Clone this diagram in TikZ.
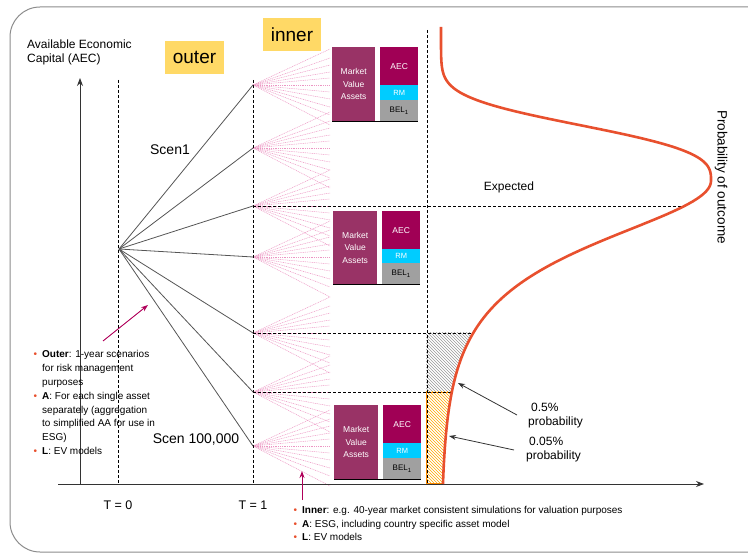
\documentclass[tikz,border=0pt]{standalone}
\usepackage{fontspec}
\setmainfont{Liberation Sans}
\usetikzlibrary{patterns,arrows.meta}
\definecolor{mvac}{RGB}{153,51,102}
\definecolor{aecc}{RGB}{160,0,85}
\definecolor{rmc}{RGB}{0,204,255}
\definecolor{belc}{RGB}{160,160,160}
\definecolor{curvec}{RGB}{232,80,46}
\definecolor{labely}{RGB}{255,217,102}
\definecolor{pinkc}{RGB}{236,150,195}
\definecolor{magc}{RGB}{176,0,90}
\definecolor{linec}{RGB}{85,85,85}
\definecolor{framec}{RGB}{140,140,140}
\definecolor{bulc}{RGB}{232,80,46}
\newcommand{\fs}[2]{\fontsize{#1}{#2}\selectfont}
\newcommand{\bul}{\makebox[0pt][r]{\textcolor{bulc}{\fs{10}{10}\textbullet}\hspace{5pt}}}
\begin{document}
\begin{tikzpicture}[x=1pt,y=-1pt,
  outerline/.style={draw=linec,line width=0.8pt},
  pinkfan/.style={draw=pinkc,line width=0.5pt,dash pattern=on 1pt off 0.8pt},
  dashv/.style={draw=black,line width=0.6pt,dash pattern=on 3pt off 2pt},
  boxmva/.style={fill=mvac,text=white,anchor=north west,inner sep=0pt,align=center,font=\fs{8.5}{12.5}},
  boxaec/.style={fill=aecc,text=white,anchor=north west,inner sep=0pt,align=center,font=\fs{8.5}{10}},
  boxrm/.style={fill=rmc,text=white,anchor=north west,inner sep=0pt,align=center,font=\fs{7.5}{9}},
  boxbel/.style={fill=belc,text=black,anchor=north west,inner sep=0pt,align=center,font=\fs{8}{9}},
  ylabel/.style={fill=labely,inner sep=0pt,font=\fs{19}{20}},
  txt/.style={inner sep=0pt,font=\fs{12}{14}},
  blackarrow/.style={draw=black!80,line width=0.8pt,-{Stealth[length=7pt,width=5pt]}},
  magarrow/.style={draw=magc,line width=0.9pt,-{Stealth[length=7pt,width=5pt]}},
  axisline/.style={draw=black!80,line width=1pt,-{Stealth[length=8pt,width=6pt]}},
  upperplot/.style={domain=27:181,samples=90,variable=\t},
  lowerplot/.style={domain=181:484,samples=120,variable=\t}
]
\useasboundingbox (0,0) rectangle (748,556);
% frame
\draw[framec,line width=1pt,rounded corners=30pt] (10,7) rectangle (790,552);

% hatched regions clipped by curve
\begin{scope}
\clip (300,181) -- plot[lowerplot] ({441+270/cosh((\t-181)/54)},\t) -- (300,484) -- cycle;
\fill[pattern=north west lines,pattern color=gray!80] (426,333) rectangle (490,392);
\fill[pattern=north west lines,pattern color=orange!70!yellow] (426,392) rectangle (470,484);
\draw[orange!90!yellow,line width=0.8pt] (426.4,392.4) rectangle (470,483.6);
\end{scope}

% coordinates
\coordinate (O) at (119,249);
\coordinate (n1) at (253,85);
\coordinate (n2) at (253,148);
\coordinate (n3) at (253,206);
\coordinate (n4) at (253,257);
\coordinate (n5) at (253,333);
\coordinate (n6) at (253,392);
\coordinate (n7) at (253,446);
\coordinate (ax0) at (58,484);
\coordinate (ax1) at (704,484);
\coordinate (ay0) at (80,484);
\coordinate (ay1) at (80,78);
\coordinate (d0a) at (118,80);
\coordinate (d0b) at (118,484);
\coordinate (d1a) at (253,80);
\coordinate (d1b) at (253,484);
\coordinate (d2a) at (427,30);
\coordinate (d2b) at (427,484);
\coordinate (e3) at (685,206);
\coordinate (e5) at (473,333);
\coordinate (e6) at (452,392);

% pink fans
\foreach \i in {1,...,7}{
  \foreach \o [count=\j] in {-36,-27,-20,-13,-7,0,7,14,22,30,40}{
    \coordinate (f\i-\j) at ([shift={(77,\o)}]n\i);
    \draw[pinkfan] (n\i) -- (f\i-\j);
  }
}

% dashed lines
\draw[dashv] (d0a) -- (d0b);
\draw[dashv] (d1a) -- (d1b);
\draw[dashv] (d2a) -- (d2b);
\draw[dashv] (n3) -- (e3);
\draw[dashv] (n5) -- (e5);
\draw[dashv] (n6) -- (e6);

% outer fan
\foreach \i in {1,...,7}{ \draw[outerline] (O) -- (n\i); }

% axes
\draw[axisline] (ax0) -- (ax1);
\draw[axisline] (ay0) -- (ay1);

% boxes
\node[boxmva,minimum width=43pt,minimum height=74pt] (mva1) at (332,47) {Market\\Value\\Assets};
\node[boxaec,minimum width=38pt,minimum height=38pt] (aec1) at (380,47) {AEC};
\node[boxrm,minimum width=38pt,minimum height=15pt] (rm1) at (380,85) {RM};
\node[boxbel,minimum width=38pt,minimum height=21pt] (bel1) at (380,100) {BEL\textsubscript{1}};
\draw[black,line width=1pt] (mva1.south west) -- (bel1.south east);

\node[boxmva,minimum width=44pt,minimum height=73pt] (mva2) at (333,211) {Market\\Value\\Assets};
\node[boxaec,minimum width=38pt,minimum height=38pt] (aec2) at (382,211) {AEC};
\node[boxrm,minimum width=38pt,minimum height=14pt] (rm2) at (382,249) {RM};
\node[boxbel,minimum width=38pt,minimum height=21pt] (bel2) at (382,263) {BEL\textsubscript{1}};
\draw[black,line width=1pt] (mva2.south west) -- (bel2.south east);

\node[boxmva,minimum width=44pt,minimum height=74pt] (mva3) at (334,405) {Market\\Value\\Assets};
\node[boxaec,minimum width=38pt,minimum height=38pt] (aec3) at (383,405) {AEC};
\node[boxrm,minimum width=38pt,minimum height=15pt] (rm3) at (383,443) {RM};
\node[boxbel,minimum width=38pt,minimum height=21pt] (bel3) at (383,458) {BEL\textsubscript{1}};
\draw[black,line width=1pt] (mva3.south west) -- (bel3.south east);

% curve
\draw[curvec,line width=2.6pt,line join=round] plot[upperplot] ({441+270*exp(-((181-\t)/64)^3)},\t) -- plot[lowerplot] ({441+270/cosh((\t-181)/54)},\t);

% labels
\node[txt,anchor=north west,align=left] (aec) at (27,40) {Available Economic\\Capital (AEC)};
\node[ylabel,minimum width=59pt,minimum height=33pt] (outer) at (194.5,57.5) {outer};
\node[ylabel,minimum width=58pt,minimum height=33pt] (inner) at (292,34.5) {inner};
\node[txt,font=\fs{14}{16}] (scen1) at (170,150) {Scen1};
\node[txt,font=\fs{14}{16}] (scenN) at (196,440) {Scen 100,000};
\node[txt,font=\fs{12.5}{14}] (t0) at (118,505) {T = 0};
\node[txt,font=\fs{12.5}{14}] (t1) at (253,505) {T = 1};
\node[txt] (exp) at (509,187) {Expected};
\node[txt,rotate=-90,font=\fs{13.5}{15}] (prob) at (721,177) {Probability of outcome};
\node[txt,anchor=west,align=left] (p1) at (528,416) {\hspace{3pt}0.5\%\\probability};
\node[txt,anchor=west,align=left] (p2) at (526,450) {\hspace{3pt}0.05\%\\probability};
\coordinate (p1t) at (517,415);
\coordinate (p1h) at (458,383);
\coordinate (p2t) at (514,450);
\coordinate (p2h) at (449,436);
\draw[blackarrow] (p1t) -- (p1h);
\draw[blackarrow] (p2t) -- (p2h);

% bullet texts
\node[inner sep=0pt,anchor=north west,align=left,font=\fs{10}{13.9}] (outtxt) at (42,350) {\bul\textbf{Outer}: 1-year scenarios\\for risk management\\purposes\\\bul\textbf{A}: For each single asset\\separately (aggregation\\to simplified AA for use in\\ESG)\\\bul\textbf{L}: EV models};
\node[inner sep=0pt,anchor=north west,align=left,font=\fs{10}{13.2}] (intxt) at (302,506.5) {\bul\textbf{Inner}: e.g. 40-year market consistent simulations for valuation purposes\\\bul\textbf{A}: ESG, including country specific asset model\\\bul\textbf{L}: EV models};

% magenta arrows
\coordinate (m1t) at (103,341);
\coordinate (m1h) at (148,305);
\coordinate (m2t) at (302,500);
\coordinate (m2h) at (302,471);
\draw[magarrow] (m1t) -- (m1h);
\draw[magarrow] (m2t) -- (m2h);
\end{tikzpicture}
\end{document}
